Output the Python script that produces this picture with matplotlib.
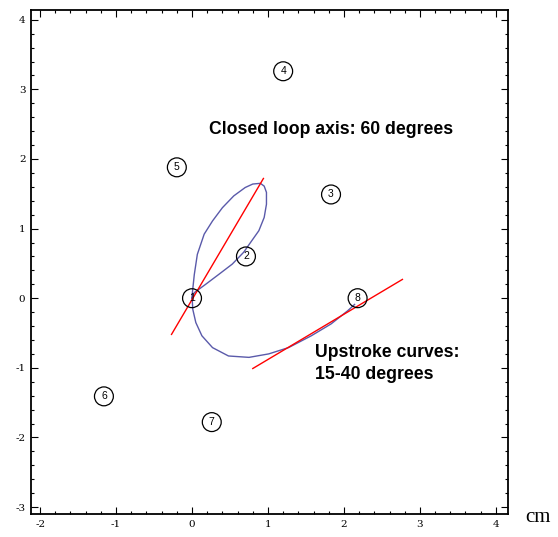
import matplotlib
matplotlib.use("Agg")
import matplotlib.pyplot as plt
from matplotlib.ticker import MultipleLocator

plt.rcParams['axes.unicode_minus'] = False

# Numbered landmark points
point_labels = ["1", "2", "3", "4", "5", "6", "7", "8"]
point_x = [0.00, 0.71, 1.83, 1.20, -0.20, -1.16, 0.26, 2.18]
point_y = [0.00, 0.60, 1.49, 3.26, 1.88, -1.41, -1.78, 0.00]

# Handwriting trace (blue): 1 -> 2 -> loop top -> down left side -> 1 -> bottom -> 8
trace_x = [0.00, 0.03, 0.18, 0.35, 0.53, 0.68, 0.77, 0.88, 0.95, 0.98, 0.98, 0.95,
           0.90, 0.80, 0.70, 0.55, 0.40, 0.27, 0.16, 0.07, 0.03, 0.00, 0.01, 0.05,
           0.13, 0.27, 0.48, 0.75, 1.01, 1.27, 1.57, 1.83, 2.05, 2.14]
trace_y = [0.00, 0.08, 0.20, 0.34, 0.49, 0.66, 0.80, 0.97, 1.16, 1.35, 1.52, 1.61,
           1.65, 1.64, 1.59, 1.47, 1.30, 1.11, 0.92, 0.63, 0.34, 0.03, -0.16, -0.35,
           -0.54, -0.71, -0.83, -0.85, -0.80, -0.71, -0.54, -0.37, -0.18, -0.09]

# Axis lines (red)
loop_axis_x = [-0.27, 0.94]
loop_axis_y = [-0.52, 1.72]
upstroke_x = [0.80, 2.77]
upstroke_y = [-1.01, 0.27]

x_ticks = [-2, -1, 0, 1, 2, 3, 4]
y_ticks = [-3, -2, -1, 0, 1, 2, 3, 4]

fig = plt.figure(figsize=(5.58, 5.37), dpi=100)
ax = fig.add_axes([31/558, 23/537, 477/558, 504/537])

ax.plot(trace_x, trace_y, color='#5a5aaa', lw=1.0, zorder=2,
        solid_joinstyle='round')
ax.plot(loop_axis_x, loop_axis_y, color='red', lw=1.0, zorder=3)
ax.plot(upstroke_x, upstroke_y, color='red', lw=1.0, zorder=3)

ax.scatter(point_x, point_y, s=185, facecolors='none', edgecolors='black',
           linewidths=0.9, zorder=4)
for lab, x, y in zip(point_labels, point_x, point_y):
    ax.text(x, y, lab, ha='center', va='center', fontsize=7.5,
            family='Liberation Sans', zorder=5)

ax.text(0.22, 2.43, "Closed loop axis: 60 degrees", fontsize=12.7,
        fontweight='bold', family='Liberation Sans', ha='left', va='center')
ax.text(1.62, -0.78, "Upstroke curves:", fontsize=12.7,
        fontweight='bold', family='Liberation Sans', ha='left', va='center')
ax.text(1.62, -1.09, "15-40 degrees", fontsize=12.7,
        fontweight='bold', family='Liberation Sans', ha='left', va='center')

ax.set_xlim(-2.12, 4.16)
ax.set_ylim(-3.10, 4.14)
ax.set_xticks(x_ticks)
ax.set_yticks(y_ticks)
ax.set_xticklabels([str(t) for t in x_ticks])
ax.set_yticklabels([str(t) for t in y_ticks])
ax.xaxis.set_minor_locator(MultipleLocator(0.2))
ax.yaxis.set_minor_locator(MultipleLocator(0.2))
ax.tick_params(which='both', direction='in', top=True, right=True,
               labelsize=7.5, width=0.8, pad=4)
ax.tick_params(which='major', length=5)
ax.tick_params(which='minor', length=2.5)
for lab in ax.get_xticklabels() + ax.get_yticklabels():
    lab.set_family('DejaVu Serif')
for sp in ax.spines.values():
    sp.set_linewidth(1.3)

fig.text(525/558, 1 - 517/537, "cm", fontsize=15, family='Liberation Serif',
         ha='left', va='center')

fig.savefig("out.png", dpi=100)
